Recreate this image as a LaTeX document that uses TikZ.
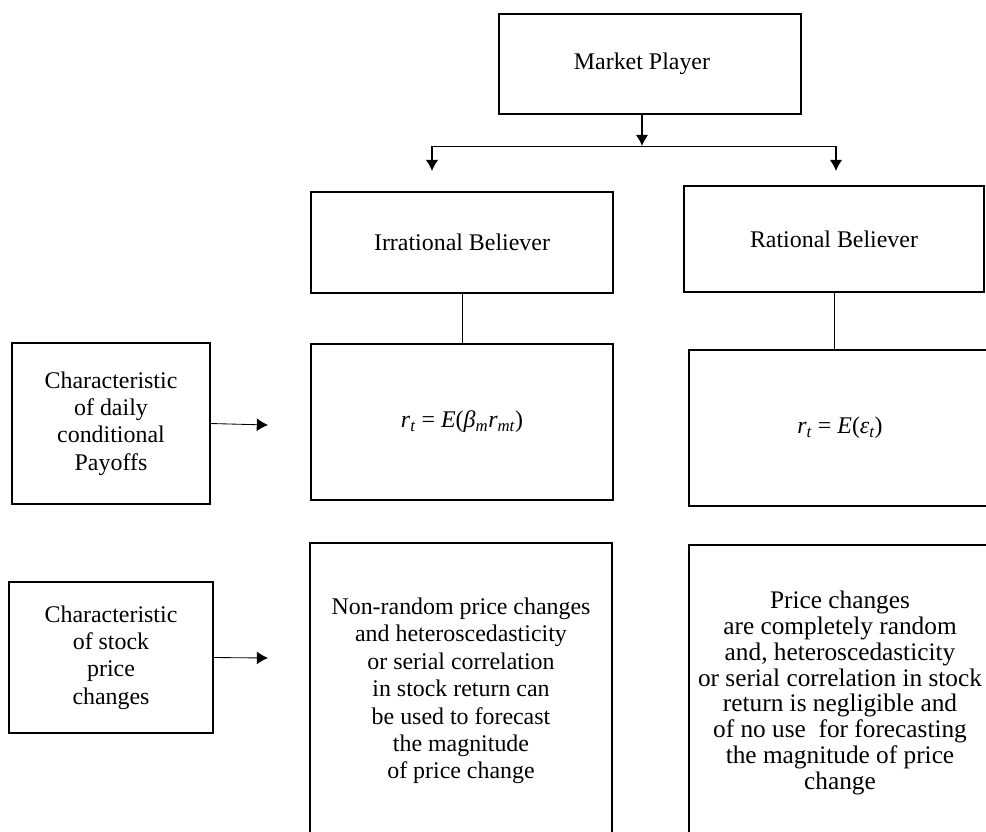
\documentclass[tikz,border=0pt]{standalone}
\usepackage{fontspec}
\setmainfont{Liberation Serif}
\usetikzlibrary{arrows.meta}
\begin{document}
\begin{tikzpicture}[x=0.025cm, y=-0.025cm,
  >={Latex[length=0.28cm,width=0.32cm]},
  box/.style={draw, line width=0.9pt, inner sep=0pt, align=center,
    font=\fontsize{17}{19.5}\selectfont},
  link/.style={line width=0.6pt}]
\useasboundingbox (0,0) rectangle (986,831);
\clip (0,0) rectangle (986,831);
% Kopf und die beiden Gruppen
\node[box, minimum width=7.55cm, minimum height=2.5cm] (player) at (650,64) {Market Player\hspace{0.4cm}};
\node[box, minimum width=7.55cm, minimum height=2.525cm] (irr) at (462,242.5) {Irrational Believer};
\node[box, minimum width=7.5cm, minimum height=2.65cm] (rat) at (834,239) {Rational Believer};
% Zeile 1: Payoffs
\node[box, minimum width=4.95cm, minimum height=4.025cm] (charA) at (111,423.5)
  {Characteristic\\of daily\\conditional\\Payoffs};
\node[box, minimum width=7.55cm, minimum height=3.9cm] (irrf) at (462,422)
  {\textit{r\textsubscript{t}} = \textit{E}(\textit{β\textsubscript{m}r\textsubscript{mt}})};
\node[box, minimum width=7.55cm, minimum height=3.9cm] (ratf) at (840,428)
  {\textit{r\textsubscript{t}} = \textit{E}(\textit{ε\textsubscript{t}})};
% Zeile 2: Kursaenderungen
\node[box, minimum width=5.1cm, minimum height=3.775cm] (charB) at (111,657.5)
  {Characteristic\\of stock\\price\\changes};
\node[box, minimum width=7.55cm, minimum height=7.4cm] (irrt) at (461,691)
  {Non-random price changes\\and heteroscedasticity\\or serial correlation\\in stock return can\\be used to forecast\\the magnitude\\of price change};
\node[box, minimum width=7.55cm, minimum height=7.4cm,
  font=\fontsize{18}{18.3}\selectfont] (ratt) at (840,693)
  {Price changes\\are completely random\\and, heteroscedasticity\\or serial correlation in stock\\return is negligible and\\of no use\ \ for forecasting\\the magnitude of price\\change};
\coordinate (split) at (642,146);
\coordinate (lsplit) at (432,146);
\coordinate (rsplit) at (836,146);
\coordinate (ltip) at (432,171);
\coordinate (rtip) at (836,171);
\coordinate (atip) at (268,425);
\coordinate (btip) at (268,658);
\draw[->, line width=1.4pt] (player.south -| split) -- (split);
\draw[link] (lsplit) -- (rsplit);
\draw[->, line width=1.2pt] (lsplit) -- (ltip);
\draw[->, line width=1.2pt] (rsplit) -- (rtip);
\draw[link] (irr.south) -- (irrf.north);
\draw[link] (rat.south) -- (rat.south |- ratf.north);
\draw[->, link] (charA.east) -- (atip);
\draw[->, link] (charB.east) -- (btip);
\end{tikzpicture}
\end{document}
